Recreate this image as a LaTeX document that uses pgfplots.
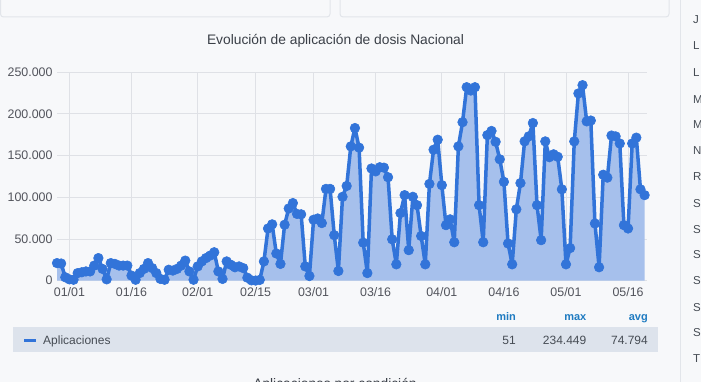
\documentclass[border=0pt]{standalone}
\usepackage{pgfplots}
\pgfplotsset{compat=1.18}
\usepackage{pgfplotstable}
\usepackage{fontspec}
\setmainfont{Liberation Sans}
\definecolor{bg}{HTML}{F7F8FA}
\definecolor{gridc}{HTML}{DFE1E6}
\definecolor{lineblue}{HTML}{3274D9}
\definecolor{fillblue}{HTML}{A6C0EC}
\definecolor{txt}{HTML}{464C54}
\definecolor{titletxt}{HTML}{3A3F47}
\definecolor{ticktxt}{HTML}{52545C}
\definecolor{hdrblue}{HTML}{1F7BC1}
\definecolor{rowbg}{HTML}{DDE3EC}
\definecolor{boxborder}{HTML}{E2E5EA}

\pgfplotstableread{
i v
0 21000
1 20500
2 4000
3 1500
4 1000
5 9000
6 10000
7 11000
8 11000
9 18000
10 27000
11 14000
12 1500
13 21000
14 20000
15 18000
16 18000
17 18000
18 6000
19 1000
20 9000
21 14000
22 21000
23 15000
24 9000
25 2000
26 1000
27 13000
28 12000
29 14000
30 18000
31 24000
32 11000
33 1000
34 17000
35 23000
36 27000
37 30000
38 34000
39 11000
40 2000
41 23000
42 19000
43 16000
44 17000
45 15000
46 3500
47 300
48 51
49 800
50 23000
51 62500
52 67500
53 32500
54 20000
55 67000
56 86500
57 93000
58 80000
59 79500
60 17000
61 5500
62 73000
63 74500
64 69000
65 110000
66 110000
67 54500
68 11500
69 100500
70 113500
71 161000
72 183000
73 159500
74 45500
75 9000
76 134500
77 131000
78 136000
79 135500
80 124000
81 49500
82 19500
83 81000
84 102500
85 36500
86 100500
87 90500
88 53500
89 19500
90 116000
91 157000
92 169000
93 114500
94 66500
95 73500
96 46000
97 161000
98 190000
99 232000
100 228000
101 232000
102 90500
103 46000
104 174500
105 179500
106 166500
107 145500
108 118500
109 44500
110 19500
111 85500
112 117000
113 167000
114 173000
115 189000
116 90500
117 48500
118 167000
119 148000
120 151500
121 148500
122 109500
123 19500
124 39000
125 167000
126 224500
127 234449
128 191000
129 192000
130 68500
131 16000
132 127000
133 123500
134 174000
135 173000
136 164500
137 66500
138 62500
139 164500
140 171500
141 109500
142 102500
}\datatable

\begin{document}
\begin{tikzpicture}[x=1pt,y=1pt]
\useasboundingbox (0,0) rectangle (701,382);
\clip (0,0) rectangle (701,382);
\fill[bg] (0,0) rectangle (701,382);
% top panels
\draw[boxborder, line width=1pt, fill=bg, rounded corners=3pt] (0.5,365) rectangle (330,400);
\draw[boxborder, line width=1pt, fill=bg, rounded corners=3pt] (340,365) rectangle (669,400);
% sidebar
\draw[boxborder, line width=1pt] (680,0) -- (680,382);
\begin{scope}[every node/.style={anchor=west, text=txt, font=\fontsize{11.5}{13}\selectfont, inner sep=0pt}]
\node at (693,362) {J};
\node at (693,336) {L};
\node at (693,309.3) {L};
\node at (693,282.7) {M};
\node at (693,257) {M};
\node at (693,231.3) {N};
\node at (693,205.3) {R};
\node at (693,178.7) {S};
\node at (693,152.7) {S};
\node at (693,127) {S};
\node at (693,101) {S};
\node at (693,74) {S};
\node at (693,49) {S};
\node at (693,23) {T};
\end{scope}
% title
\node[text=titletxt, font=\fontsize{13.8}{16}\selectfont] at (335.5,341) {Evolución de aplicación de dosis Nacional};
% legend
\fill[rowbg] (13,30) rectangle (658,54.7);
\draw[lineblue, line width=3pt] (24,41.5) -- (36,41.5);
\node[anchor=base west, text=txt, font=\fontsize{12}{14}\selectfont, inner sep=0pt] at (43,37.5) {Aplicaciones};
\begin{scope}[every node/.style={anchor=base east, text=txt, font=\fontsize{12}{14}\selectfont, inner sep=0pt}]
\node at (516,37.5) {51};
\node at (586.5,37.5) {234.449};
\node at (648,37.5) {74.794};
\end{scope}
\begin{scope}[every node/.style={anchor=base east, text=hdrblue, font=\fontsize{11}{13}\selectfont\bfseries, inner sep=0pt}]
\node at (516,61) {min};
\node at (586.5,61) {max};
\node at (648,61) {avg};
\end{scope}
\node[anchor=base, text=titletxt, font=\fontsize{13.8}{16}\selectfont, inner sep=0pt] at (335,-7) {Aplicaciones por condición};
% chart
\begin{axis}[
  at={(57pt,101.4pt)}, anchor=south west,
  scale only axis, width=590pt, height=208.4pt,
  xmin=0, xmax=142.58, ymin=0, ymax=250000,
  axis line style={draw=none},
  tick style={draw=none},
  major tick length=0pt,
  xtick={3,18,34,48,62,77,93,108,123,138},
  xticklabels={01/01,01/16,02/01,02/15,03/01,03/16,04/01,04/16,05/01,05/16},
  ytick={0,50000,100000,150000,200000,250000},
  scaled y ticks=false,
  yticklabel={\pgfmathprintnumber[fixed,precision=0,1000 sep={.}]{\tick}},
  /pgf/number format/assume math mode=true,
  grid=major,
  major grid style={color=gridc, line width=0.8pt},
  ticklabel style={text=ticktxt, font=\fontsize{12.4}{14}\selectfont},
  xticklabel style={yshift=-3pt},
  yticklabel style={xshift=-1pt},
  clip=false,
  axis on top=false,
]
\addplot[fill=fillblue, draw=none] table[x=i,y=v]{\datatable} \closedcycle;
\addplot[lineblue, line width=3.5pt, line join=round, mark=*, mark size=4.8pt,
  mark options={solid, fill=lineblue, draw=lineblue, line width=0.6pt}] table[x=i,y=v]{\datatable};
\end{axis}
\end{tikzpicture}
\end{document}
